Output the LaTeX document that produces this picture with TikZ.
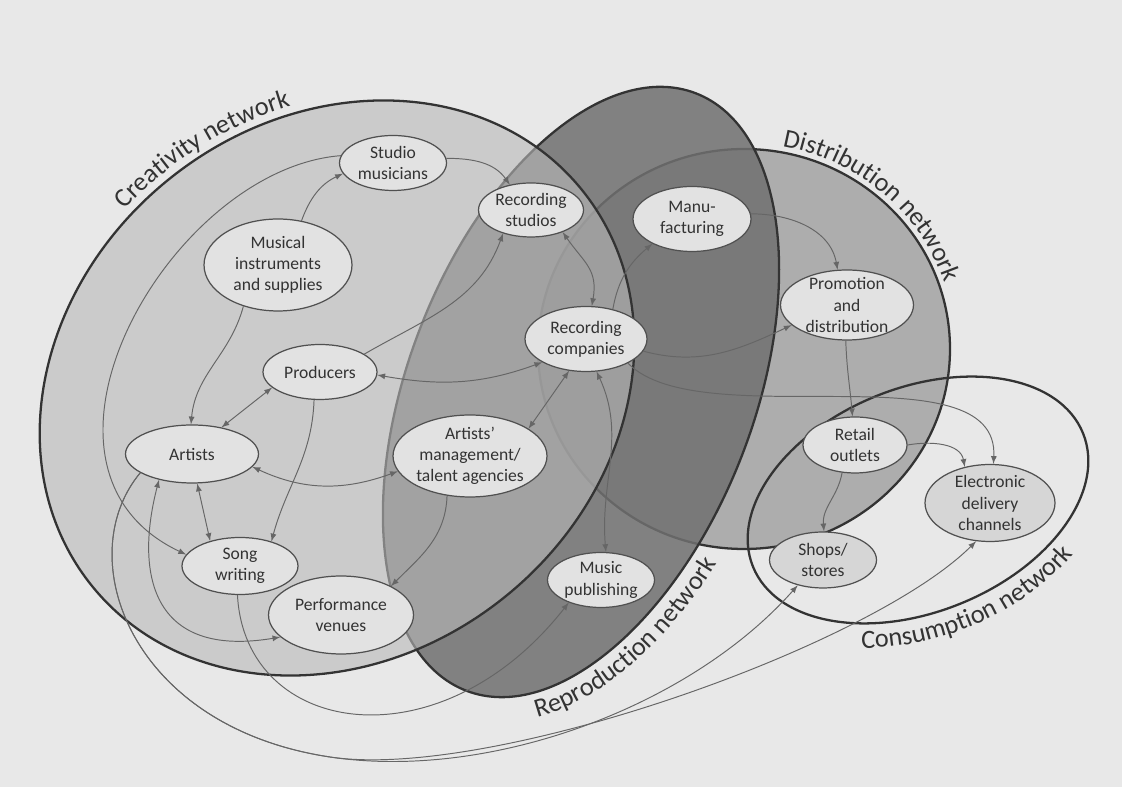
\documentclass[tikz,border=0pt]{standalone}
\usepackage{fontspec}
\setmainfont{Carlito}
\usepackage{xcolor}
\usepackage{tikz}
\usetikzlibrary{shapes.geometric, arrows, decorations.text}

\definecolor{pagebg}{HTML}{E8E8E8}
\definecolor{creafill}{HTML}{B8B8B8}
\definecolor{reprofill}{HTML}{707070}
\definecolor{distfill}{HTML}{ADADAD}
\definecolor{rimgray}{HTML}{333333}
\definecolor{nodefill}{HTML}{E2E2E2}
\definecolor{nodedark}{HTML}{D6D6D6}
\definecolor{nodeline}{HTML}{505050}
\definecolor{linkgray}{HTML}{666666}
\definecolor{inkgray}{HTML}{333333}

\newcommand{\netfont}{\fontsize{15}{18}\selectfont\color{inkgray}}

\begin{document}
\begin{tikzpicture}[x=0.02cm, y=0.02cm,
  actor/.style={ellipse, draw=nodeline, line width=0.7pt, fill=nodefill, text=inkgray, font=\fontsize{10}{12}\selectfont, align=center, inner xsep=0pt, inner ysep=-3pt},
  net/.style={draw=rimgray, line width=1.3pt},
  netlabel/.style={decorate, decoration={text along path, text align=center, text={|\netfont|#1}}},
  link/.style={draw=linkgray, line width=0.55pt, -latex},
  link2/.style={link, latex-latex}
]
  \fill[pagebg] (0,0) rectangle (1122,787);
  \useasboundingbox (0,0) rectangle (1122,787);

  % the four networks
  \path[net, fill=distfill] (744,438) ellipse [x radius=206, y radius=200];
  \path[net, fill=reprofill, fill opacity=0.85, rotate around={69:(581,395)}] (581,395) ellipse [x radius=320, y radius=173];
  \path[net, fill=creafill, fill opacity=0.6, rotate around={39:(337,399)}] (337,399) ellipse [x radius=315, y radius=268];
  \path[net, rotate around={22:(918,287)}] (918,287) ellipse [x radius=178, y radius=112];

  \path[shift={(337,399)}, rotate=39, netlabel={Creativity network}] (115:323 and 276) arc[start angle=115, end angle=48, x radius=323, y radius=276];
  \path[shift={(744,438)}, netlabel={Distribution network}] (90:212 and 206) arc[start angle=90, end angle=8, x radius=212, y radius=206];
  \path[shift={(581,395)}, rotate=69, netlabel={Reproduction network}] (185:346 and 199) arc[start angle=185, end angle=262, x radius=346, y radius=199];
  \path[shift={(918,287)}, rotate=22, netlabel={Consumption network}] (225:203 and 137) arc[start angle=225, end angle=321, x radius=203, y radius=137];

  \node[actor, minimum width=2.14cm, minimum height=1.1cm] (studio) at (393,624) {Studio\\musicians};
  \node[actor, minimum width=2.1cm, minimum height=1.08cm] (recstudio) at (531,577) {Recording\\studios};
  \node[actor, minimum width=2.36cm, minimum height=1.3cm] (manuf) at (692,568) {Manu-\\facturing};
  \node[actor, minimum width=2.96cm, minimum height=1.84cm] (musical) at (278,522) {Musical\\instruments\\and supplies};
  \node[actor, minimum width=2.66cm, minimum height=1.4cm] (promo) at (847,482) {Promotion\\and\\distribution};
  \node[actor, minimum width=2.44cm, minimum height=1.3cm] (reccomp) at (586,448) {Recording\\companies};
  \node[actor, minimum width=2.28cm, minimum height=1.1cm] (producers) at (320,415) {Producers};
  \node[actor, minimum width=2.66cm, minimum height=1.16cm] (artists) at (192,333) {Artists};
  \node[actor, minimum width=3.08cm, minimum height=1.64cm] (mgmt) at (470,331) {Artists'\\management/\\talent agencies};
  \node[actor, minimum width=2.08cm, minimum height=1.12cm] (retail) at (855,342) {Retail\\outlets};
  \node[actor, fill=nodedark, minimum width=2.6cm, minimum height=1.54cm] (electronic) at (990,284) {Electronic\\delivery\\channels};
  \node[actor, minimum width=2.32cm, minimum height=1.14cm] (songwr) at (240,221) {Song\\writing};
  \node[actor, fill=nodedark, minimum width=2.14cm, minimum height=1.12cm] (shops) at (823,227) {Shops/\\stores};
  \node[actor, minimum width=2.14cm, minimum height=1.1cm] (musicpub) at (601,207) {Music\\publishing};
  \node[actor, minimum width=2.9cm, minimum height=1.56cm] (perf) at (341,172) {Performance\\venues};

  \coordinate (swoop) at (330,30);

  \draw[link] (studio.5) to[out=0, in=125] (recstudio.130);
  \draw[link] (musical.62) to[out=70, in=205] (studio.192);
  \draw[link] (studio.172) .. controls (170,618) and (0,320) .. (songwr.168);
  \draw[link] (musical.230) to[out=255, in=85] (artists.92);
  \draw[link2] (producers.198) -- (artists.42);
  \draw[link2] (artists.-80) -- (songwr.140);
  \draw[link2] (artists.-12) to[out=-25, in=200] (mgmt.192);
  \draw[link] (producers.258) to[out=268, in=75] (songwr.38);
  \draw[link] (producers.22) to[out=30, in=250] (recstudio.220);
  \draw[link2] (producers.-3) to[out=-10, in=200] (reccomp.208);
  \draw[link2] (recstudio.-35) to[out=-55, in=80, looseness=1.2] (reccomp.80);
  \draw[link2] (reccomp.242) -- (mgmt.25);
  \draw[link2] (reccomp.-72) to[out=-65, in=95] (musicpub.80);
  \draw[link] (mgmt.240) to[out=268, in=45] (perf.30);
  \draw[link2] (artists.218) .. controls (135,215) and (150,128) .. (perf.200);
  \draw[link] (songwr.265) .. controls (245,50) and (440,20) .. (musicpub.215);
  \draw[link] (artists.200) .. controls (70,230) and (130,60) .. (swoop) .. controls (490,6) and (690,80) .. (shops.225);
  \draw[link] (artists.200) .. controls (70,230) and (130,60) .. (swoop) .. controls (490,6) and (870,140) .. (electronic.250);
  \draw[link] (reccomp.48) to[out=80, in=220] (manuf.212);
  \draw[link] (manuf.5) to[out=0, in=100] (promo.105);
  \draw[link] (reccomp.-12) to[out=-15, in=205] (promo.200);
  \draw[link] (reccomp.-30) .. controls (700,350) and (1000,440) .. (electronic.85);
  \draw[link] (promo.268) to[out=-88, in=95] (retail.95);
  \draw[link] (retail.245) to[out=260, in=95] (shops.88);
  \draw[link] (retail.0) to[out=10, in=100] (electronic.125);
\end{tikzpicture}
\end{document}
